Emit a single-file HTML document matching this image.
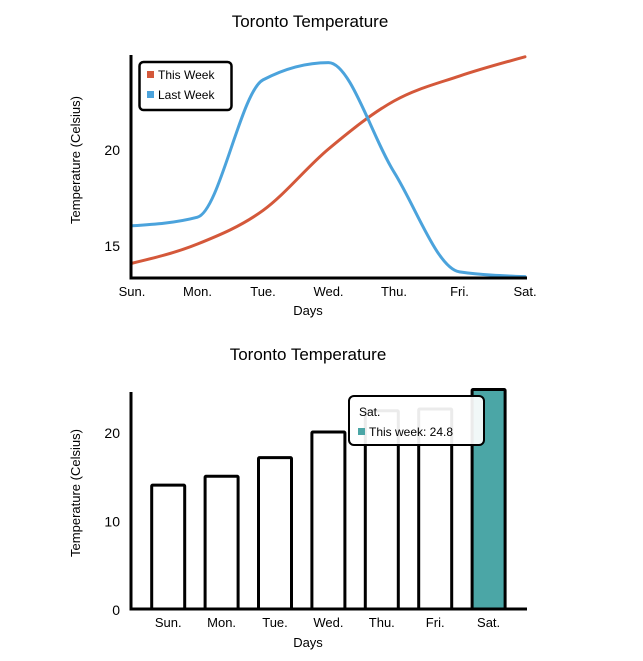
<!DOCTYPE html>
<html><head><meta charset="utf-8">
<style>
html,body{margin:0;padding:0;background:#fff;}
svg{display:block;font-family:"Liberation Sans",sans-serif;}
</style></head>
<body>
<svg id="chart" width="643" height="661" viewBox="0 0 643 661" xmlns="http://www.w3.org/2000/svg">
  <g id="line-chart"></g>
  <g id="bar-chart"></g>
</svg>
<script>
const days = ["Sun.","Mon.","Tue.","Wed.","Thu.","Fri.","Sat."];
const thisWeek = [14.05, 15.05, 16.8, 20.0, 22.5, 23.8, 24.8];
const lastWeek = [16.0, 16.45, 23.6, 24.5, 18.8, 13.6, 13.35];
const lineTicks = [15, 20];
const barValues = [14.0, 15.0, 17.1, 20.0, 22.4, 22.6, 24.8];
const barTicks = [0, 10, 20];

const NS = "http://www.w3.org/2000/svg";
function mk(tag, attrs, parent, text){
  const e = document.createElementNS(NS, tag);
  for (const k in attrs) e.setAttribute(k, attrs[k]);
  if (text !== undefined) e.textContent = text;
  parent.appendChild(e);
  return e;
}

// ---------- Line chart ----------
const L = document.getElementById('line-chart');
const lx0 = 132, lx1 = 525;
const lxs = i => lx0 + i * (lx1 - lx0) / (days.length - 1);
const lys = v => 245 - (v - 15) * 19.2;

let t = mk('text', {x:310, y:27, 'text-anchor':'middle', 'font-size':17, fill:'#000'}, L, 'Toronto Temperature');



function monotonePath(vals){
  const pts = vals.map((v,i)=>[lxs(i), lys(v)]);
  const n = pts.length, m = new Array(n);
  const sgn = x => x < 0 ? -1 : (x > 0 ? 1 : 0);
  for (let i=1;i<n-1;i++){
    const h0 = pts[i][0]-pts[i-1][0], h1 = pts[i+1][0]-pts[i][0];
    const s0 = (pts[i][1]-pts[i-1][1])/h0, s1 = (pts[i+1][1]-pts[i][1])/h1;
    const p = (s0*h1 + s1*h0)/(h0+h1);
    m[i] = (sgn(s0)+sgn(s1)) * Math.min(Math.abs(s0), Math.abs(s1), 0.5*Math.abs(p)) || 0;
  }
  const hA = pts[1][0]-pts[0][0];
  m[0] = (3*(pts[1][1]-pts[0][1])/hA - m[1])/2;
  const hB = pts[n-1][0]-pts[n-2][0];
  m[n-1] = (3*(pts[n-1][1]-pts[n-2][1])/hB - m[n-2])/2;
  let p = 'M' + pts[0][0] + ',' + pts[0][1];
  for (let i=0;i<n-1;i++){
    const h = (pts[i+1][0]-pts[i][0])/3;
    p += ' C' + (pts[i][0]+h) + ',' + (pts[i][1]+m[i]*h) + ' ' + (pts[i+1][0]-h) + ',' + (pts[i+1][1]-m[i+1]*h) + ' ' + pts[i+1][0] + ',' + pts[i+1][1];
  }
  return p;
}
let p1 = mk('path', {d: monotonePath(thisWeek), fill:'none', stroke:'#d4583a', 'stroke-width':3, 'stroke-linecap':'round'}, L);


let p2 = mk('path', {d: monotonePath(lastWeek), fill:'none', stroke:'#4ba3dc', 'stroke-width':3, 'stroke-linecap':'round'}, L);



let ax = mk('path', {d:'M131,55 L131,278 L527,278', fill:'none', stroke:'#000', 'stroke-width':3}, L);


lineTicks.forEach(v=>{
  const e = mk('text', {x:120, y:lys(v)+6, 'text-anchor':'end', 'font-size':14}, L, String(v));
  
  
});
days.forEach((d,i)=>{
  const e = mk('text', {x:lxs(i), y:296, 'text-anchor':'middle', 'font-size':13}, L, d);
  
  
});
t = mk('text', {x:308, y:315, 'text-anchor':'middle', 'font-size':13}, L, 'Days');


t = mk('text', {x:0, y:0, 'text-anchor':'middle', 'font-size':13, transform:'translate(80,160) rotate(-90)'}, L, 'Temperature (Celsius)');



const lg = mk('g', {}, L);


mk('rect', {x:139.5, y:62, width:92, height:48, rx:4, fill:'#fff', stroke:'#000', 'stroke-width':2.5}, lg);
let le = mk('g', {}, lg);


mk('rect', {x:147, y:71, width:7, height:7, fill:'#d4583a'}, le);
mk('text', {x:158, y:79, 'font-size':12}, le, 'This Week');
le = mk('g', {}, lg);


mk('rect', {x:147, y:91, width:7, height:7, fill:'#4ba3dc'}, le);
mk('text', {x:158, y:99, 'font-size':12}, le, 'Last Week');

// ---------- Bar chart ----------
const B = document.getElementById('bar-chart');
const bys = v => 609 - v * 8.85;
const step = 53.4, bx0 = 141.5, bw = 33;
const bxc = i => bx0 + step*i + step/2;

t = mk('text', {x:308, y:360, 'text-anchor':'middle', 'font-size':17}, B, 'Toronto Temperature');



barValues.forEach((v,i)=>{
  const last = i === barValues.length - 1;
  const r = mk('rect', {x:bxc(i)-bw/2, y:bys(v), width:bw, height:609-bys(v), fill: last ? '#4ba6a6' : '#fff', stroke:'#000', 'stroke-width':3, rx:1}, B);
  
  
});
ax = mk('path', {d:'M131,392 L131,609 L527,609', fill:'none', stroke:'#000', 'stroke-width':3}, B);


barTicks.forEach(v=>{
  const e = mk('text', {x:120, y:bys(v)+6, 'text-anchor':'end', 'font-size':14}, B, String(v));
  
  
});
days.forEach((d,i)=>{
  const e = mk('text', {x:bxc(i), y:627, 'text-anchor':'middle', 'font-size':13}, B, d);
  
  
});
t = mk('text', {x:308, y:647, 'text-anchor':'middle', 'font-size':13}, B, 'Days');


t = mk('text', {x:0, y:0, 'text-anchor':'middle', 'font-size':13, transform:'translate(80,493) rotate(-90)'}, B, 'Temperature (Celsius)');



const tip = mk('g', {}, B);


mk('rect', {x:349, y:396, width:135, height:49, rx:5, fill:'#fff', 'fill-opacity':0.92, stroke:'#000', 'stroke-width':2}, tip);
mk('text', {x:359, y:416, 'font-size':12}, tip, 'Sat.');
mk('rect', {x:358, y:428, width:7, height:7, fill:'#4ba6a6'}, tip);
mk('text', {x:369, y:436, 'font-size':12}, tip, 'This week: ' + barValues[barValues.length-1]);
</script>
</body></html>
